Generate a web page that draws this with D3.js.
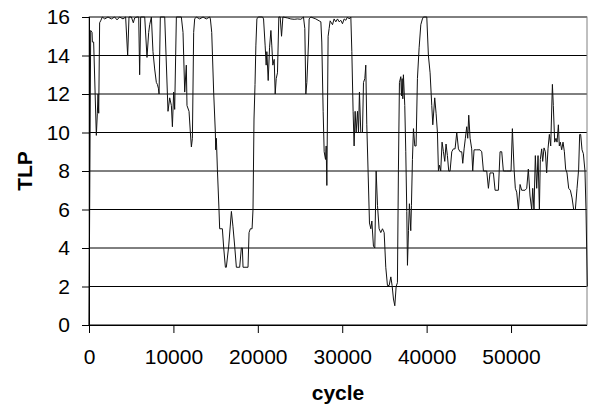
<!DOCTYPE html>
<html>
<head>
<meta charset="utf-8">
<script src="https://cdn.jsdelivr.net/npm/d3@7"></script>
<style>
  body { margin: 0; background: #fff; }
  text { font-family: "Liberation Sans", Arial, sans-serif; }
</style>
</head>
<body>
<div id="chart"></div>
<script>
// TLP per cycle
var cycles = [0,200,360,400,550,870,990,1070,1150,1260,1380,1580,1860,2250,2650,3040,3320,3630,4030,4340,
  4580,4740,5020,5250,5410,5690,5890,6000,6120,6600,6870,7070,7190,7390,7580,7780,7980,8100,8220,8300,
  8450,8970,9360,9560,9760,9880,10030,10150,10350,10940,11140,11340,11530,11610,11850,12010,12130,12250,12400,12520,
  12720,13110,13510,13900,14300,14380,14540,14770,14970,15010,15090,15210,15400,15480,15800,15960,16160,16270,16550,16870,
  17060,17260,17460,17850,18050,18170,18250,18840,18960,19120,19320,19430,19550,19670,19770,19890,20050,20560,20680,20870,
  20990,21070,21230,21390,21550,21660,21780,21940,22060,22180,22330,22490,22650,22810,22970,23520,23910,24310,24700,25100,
  25410,25570,25690,25810,26010,26080,26280,26870,27270,27470,27580,27740,27860,28020,28100,28180,28330,28450,28570,28850,
  29040,29240,29440,29640,29830,30030,30230,30430,30620,30820,31020,31140,31290,31410,31530,31650,31810,31930,32040,32200,
  32400,32520,32680,32790,32910,33070,33230,33390,33510,33700,33860,34020,34180,34370,34570,34770,34970,35160,35360,35560,
  35760,35910,36070,36230,36390,36540,36660,36780,36940,37020,37100,37180,37250,37410,37530,37650,37730,37850,37960,38120,
  38200,38320,38440,38600,38750,38910,39110,39310,39500,39620,40020,40210,40410,40610,40730,40960,41120,41280,41400,41520,
  41670,41830,41990,42150,42300,42460,42620,42780,42980,43170,43370,43570,43770,43960,44160,44280,44440,44590,44750,44870,
  44990,45150,45340,45460,45620,45940,46330,46530,46730,47120,47320,47510,47710,47910,48110,48500,48700,48900,49090,49490,
  50000,50160,50360,50510,50670,50870,51070,51260,51660,51860,52050,52250,52450,52570,52720,52880,53040,53200,53360,53470,
  53630,53750,53910,54070,54220,54380,54540,54700,54900,55010,55170,55330,55450,55610,55720,55840,56000,56160,56320,56470,
  56630,56830,57030,57230,57420,57620,57820,58010,58130,58250,58410,58570,58760,58880,59040];

var tlp = [0,15.3,15.2,14.7,14.7,9.85,11,12,11,15.7,15.8,16,15.9,16,15.9,16,15.85,16,15.9,16,
  14,16,16,15.7,15.95,16,16,13,16,16,13.9,15.2,15.6,16,14.2,13.3,12.6,12.5,12.3,12,
  16,16,11.1,11.8,11.4,10.3,12.1,11.2,16,16,15.2,12.1,13.5,11.4,11.1,10,9.25,9.7,15.2,15.9,
  16,15.9,16,15.9,16,15.9,15.2,12.1,10,9.1,9.7,8.1,6,5,5,4,3,3,4.1,5.9,
  5.1,4.1,3,3,4,4,3,3,4.8,5,5,6,10.7,12.5,14.5,15.9,16,16,15.9,14.5,
  13.5,14.2,12.7,14.4,15.3,14.5,13.5,13.8,12,12.8,13.1,16,16,15,16,15.95,15.9,15.88,15.9,15.88,
  16,15.4,12,12.6,14.7,15.9,16,15.9,15.8,15.75,14.7,11.1,9,8.6,9.3,7.25,15,15.4,15.8,15.6,
  15.9,15.75,15.9,15.75,15.83,15.65,15.9,15.83,16,15.9,16,14.2,11.1,9.3,11.1,10,11.1,10,12.1,10,
  10,12.6,12.8,13.5,10.4,7.9,5.3,5,5.4,4.1,4,8,6.2,5,4.8,5,4.8,3,2.05,2.05,
  2.5,2.05,1.35,1,2,2.2,8.1,12.6,12.9,11.9,12.8,11.75,13,11.4,9,5.9,3.1,4.9,6.3,4.9,
  6.2,8.6,10.2,9.3,9.3,12.8,14.4,15.6,15.9,16,16,14,13.1,11.4,10.4,11.8,11,10,8,8.3,
  8,9.5,9,8.5,9.4,8.8,8,8,9,9.15,9.15,10,9.15,9,9,8.4,9.15,9.7,10.3,9.7,
  10.9,9.7,9.15,8,9.1,9.1,9.1,9,8,8,7.1,7.9,7.9,7.9,7,7,9,9,8,8,
  8,10.2,8.1,7.1,6.9,6,7.3,7,7,7.1,8.1,6.7,6,7.1,6,8.8,7.1,8.8,6,8.6,
  9.15,8.5,9.2,9,7.9,9.15,9.9,9.3,12.5,11.4,9.5,9.7,9.5,10.4,9.3,9.5,9.1,9.5,9,8.1,
  7.9,7.1,7,6.6,6,6,7.1,8.1,9.9,9.9,9.1,8.9,8,6,2];

var xTicks = [0, 10000, 20000, 30000, 40000, 50000];
var yTicks = [0, 2, 4, 6, 8, 10, 12, 14, 16];

(function() {
  var width = 589, height = 409;
  var left = 89, right = 587, top = 17, bottom = 325;

  var svg = d3.select("#chart").append("svg")
              .attr("width", width)
              .attr("height", height);

  var x = d3.scaleLinear().domain([0, 59000]).range([left, right]);
  var y = d3.scaleLinear().domain([0, 16]).range([bottom, top]);

  // horizontal gridlines
  svg.append("g").selectAll("line")
     .data(yTicks)
     .enter().append("line")
     .attr("x1", left).attr("x2", right)
     .attr("y1", function(d){ return y(d); })
     .attr("y2", function(d){ return y(d); })
     .attr("stroke", "#000").attr("stroke-width", 1);

  // plot border (top + right)
  svg.append("rect")
     .attr("x", left).attr("y", top)
     .attr("width", right - left).attr("height", bottom - top)
     .attr("fill", "none").attr("stroke", "#808080").attr("stroke-width", 1);

  var line = d3.line()
      .x(function(d, i){ return x(cycles[i]); })
      .y(function(d){ return y(d); });

  svg.append("path")
     .datum(tlp)
     .attr("d", line)
     .attr("fill", "none")
     .attr("stroke", "#111")
     .attr("stroke-width", 1);

  var yAxis = svg.append("g")
     .attr("transform", "translate(" + left + ",0)")
     .call(d3.axisLeft(y).tickValues(yTicks).tickSize(7).tickPadding(12));

  var xAxis = svg.append("g")
     .attr("transform", "translate(0," + bottom + ")")
     .call(d3.axisBottom(x).tickValues(xTicks).tickSize(8).tickPadding(16)
           .tickFormat(d3.format("d")));

  [yAxis, xAxis].forEach(function(g){
    g.selectAll("path").attr("stroke", "#000");
    g.selectAll("line").attr("stroke", "#000");
    g.selectAll("text")
     .style("font-family", '"Liberation Sans", Arial, sans-serif')
     .style("font-size", "21px")
     .attr("fill", "#000");
  });
  // no outer ticks
  yAxis.select("path").attr("d", "M0.5," + top + "V" + bottom);
  xAxis.select("path").attr("d", "M" + left + ",0.5H" + right);

  svg.append("text")
     .attr("transform", "translate(32,171) rotate(-90)")
     .attr("text-anchor", "middle")
     .style("font-size", "21px").style("font-weight", "bold")
     .text("TLP");

  svg.append("text")
     .attr("x", 338).attr("y", 400)
     .attr("text-anchor", "middle")
     .style("font-size", "21px").style("font-weight", "bold")
     .text("cycle");
})();
</script>
</body>
</html>
